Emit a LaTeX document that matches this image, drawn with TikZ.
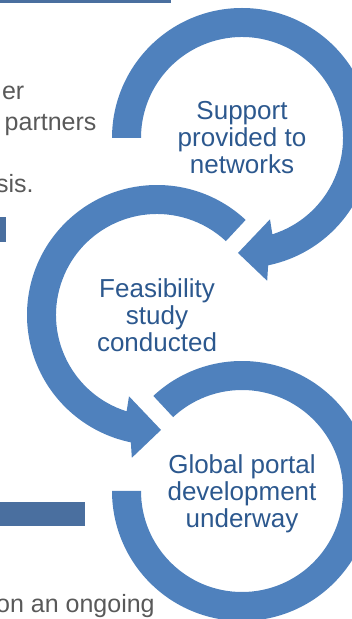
\documentclass[tikz,border=0pt]{standalone}
\usepackage{fontspec}
\setmainfont{Liberation Sans}
\usetikzlibrary{positioning}

\definecolor{ringblue}{RGB}{79,129,189}
\definecolor{barblue}{RGB}{74,111,159}
\definecolor{labelblue}{RGB}{44,88,142}
\definecolor{bodygray}{RGB}{89,89,89}

\begin{document}
\begin{tikzpicture}[x=1pt, y=1pt,
    ring/.style={fill=ringblue},
    bar/.style={fill=barblue},
    step label/.style={align=center, text=labelblue, inner sep=0pt,
        font=\fontsize{26}{27}\selectfont},
    body/.style={text=bodygray, inner sep=0pt, font=\fontsize{25}{31}\selectfont}
]
    \useasboundingbox (0,0) rectangle (352,619);
    \clip (0,0) rectangle (352,619);

    % bars of the slide
    \fill[bar] (0,616) rectangle (171,619);
    \fill[bar] (0,377) rectangle (6,402);
    \fill[bar] (0,93) rectangle (85,117);

    % text of the slide, cut at the left
    \node[body, anchor=base east] (er) at (24.5,519) {er};
    \node[body, anchor=base west] (partners) at (4.5,488) {partners};
    \node[body, anchor=base west] (sis) at (-4,426) {sis.};
    \node[body, anchor=base west] (ongoing) at (-4,6) {on an ongoing};

    \coordinate (c1) at (242,481);
    \coordinate (c2) at (157,304);
    \coordinate (c3) at (242,128);

    % circular arrows
    \begin{scope}[shift={(c1)}]
        \fill[ring] (180:130) arc[start angle=180, end angle=-78.4, radius=130]
            -- (-80:145) -- (-92:115) -- (-71:86) -- (-72.5:101)
            arc[start angle=-72.5, end angle=180, radius=101] -- cycle;
    \end{scope}
    \begin{scope}[shift={(c2)}]
        \fill[ring] (47:130) arc[start angle=47, end angle=258.4, radius=130]
            -- (260:145) -- (272:115) -- (251:86) -- (252.5:101)
            arc[start angle=252.5, end angle=47, radius=101] -- cycle;
    \end{scope}
    \begin{scope}[shift={(c3)}]
        \fill[ring] (133:130) arc[start angle=133, end angle=-180, radius=130]
            -- (-180:101) arc[start angle=-180, end angle=133, radius=101] -- cycle;
    \end{scope}

    \node[step label] (support) at (c1) {Support\\provided to\\networks};
    \node[step label] (feasibility) at (c2) {Feasibility\\study\\conducted};
    \node[step label, yshift=-3pt] (portal) at (c3) {Global portal\\development\\underway};
\end{tikzpicture}
\end{document}
